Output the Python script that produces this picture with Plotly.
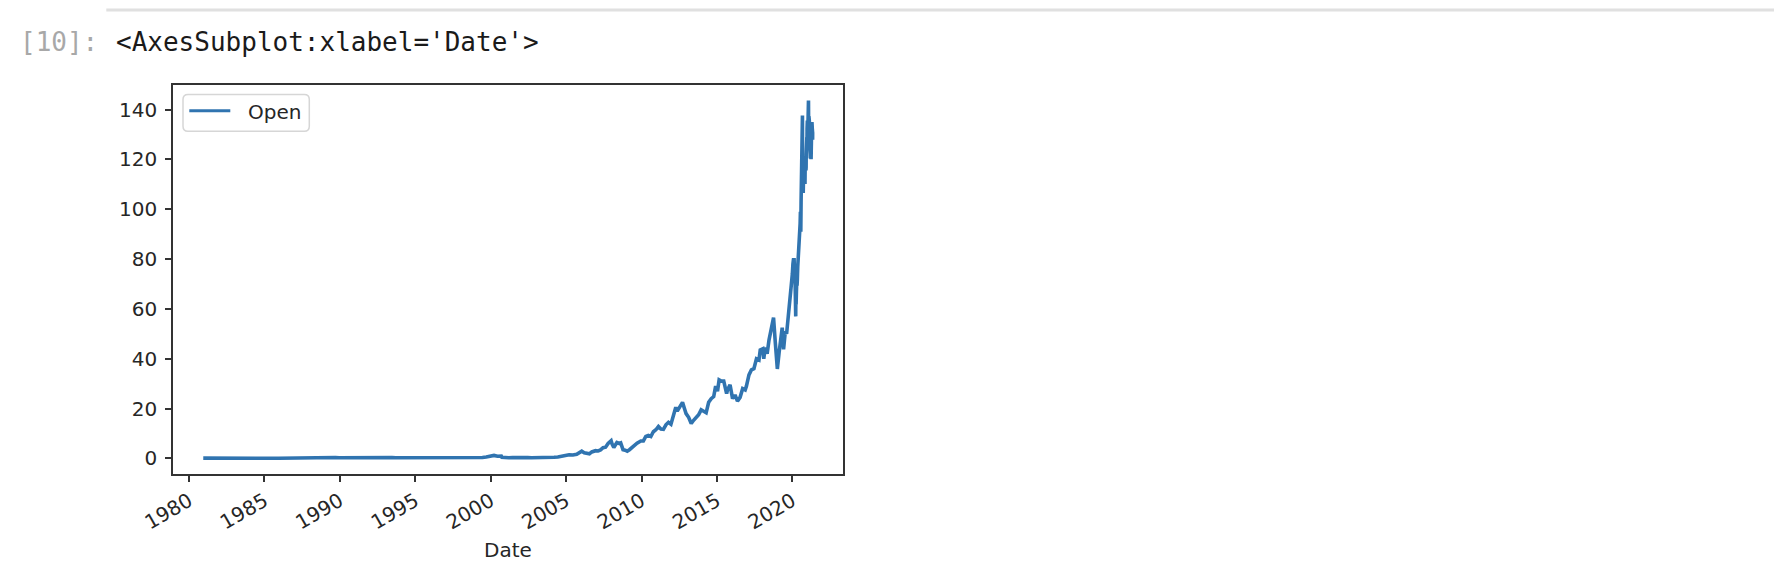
import plotly.graph_objects as go

# ---------------- data ----------------
dates = [
    "1980-12-12", "1981-03-15", "1981-06-15", "1981-09-15", "1981-12-15",
    "1982-03-15", "1982-06-15", "1982-09-15", "1982-12-15",
    "1983-03-15", "1983-06-15", "1983-09-15", "1983-12-15",
    "1984-03-15", "1984-06-15", "1984-09-15", "1984-12-15",
    "1985-03-15", "1985-06-15", "1985-09-15", "1985-12-15",
    "1986-03-15", "1986-06-15", "1986-09-15", "1986-12-15",
    "1987-03-15", "1987-06-15", "1987-09-15", "1987-10-25", "1987-12-15",
    "1988-03-15", "1988-06-15", "1988-09-15", "1988-12-15",
    "1989-03-15", "1989-06-15", "1989-09-15", "1989-12-15",
    "1990-03-15", "1990-06-15", "1990-09-15", "1990-12-15",
    "1991-03-15", "1991-06-15", "1991-09-15", "1991-12-15",
    "1992-03-15", "1992-06-15", "1992-09-15", "1992-12-15",
    "1993-03-15", "1993-06-15", "1993-09-15", "1993-12-15",
    "1994-03-15", "1994-06-15", "1994-09-15", "1994-12-15",
    "1995-03-15", "1995-06-15", "1995-09-15", "1995-12-15",
    "1996-03-15", "1996-06-15", "1996-09-15", "1996-12-15",
    "1997-03-15", "1997-06-15", "1997-09-15", "1997-12-15",
    "1998-03-15", "1998-06-15", "1998-09-15", "1998-12-15",
    "1999-03-15", "1999-06-15", "1999-09-15", "1999-12-15",
    "2000-03-15", "2000-03-22", "2000-06-15", "2000-09-15", "2000-09-29", "2000-12-15",
    "2001-03-15", "2001-06-15", "2001-09-15", "2001-12-15",
    "2002-03-15", "2002-06-15", "2002-09-15", "2002-12-15",
    "2003-03-15", "2003-06-15", "2003-09-15", "2003-12-15",
    "2004-03-15", "2004-06-15", "2004-09-15", "2004-12-15",
    "2005-03-15", "2005-06-15", "2005-09-15", "2005-12-15",
    "2006-01-15", "2006-03-15", "2006-06-15", "2006-07-20", "2006-09-15", "2006-12-15",
    "2007-02-15", "2007-04-15", "2007-06-15", "2007-08-15", "2007-10-15", "2007-12-27",
    "2008-01-20", "2008-03-01", "2008-05-15", "2008-07-15", "2008-08-15", "2008-10-10", "2008-12-01",
    "2009-01-20", "2009-03-15", "2009-05-15", "2009-07-15", "2009-09-15", "2009-12-15",
    "2010-02-15", "2010-04-15", "2010-06-15", "2010-08-15", "2010-10-15", "2010-12-15",
    "2011-02-15", "2011-04-15", "2011-06-15", "2011-08-15", "2011-10-15", "2011-12-15",
    "2012-02-15", "2012-04-10", "2012-05-15", "2012-07-15", "2012-09-20", "2012-11-15", "2012-12-15",
    "2013-02-15", "2013-04-19", "2013-06-15", "2013-08-15", "2013-10-15", "2013-12-15",
    "2014-02-15", "2014-04-15", "2014-06-15", "2014-08-15", "2014-10-15", "2014-12-01",
    "2015-01-15", "2015-02-23", "2015-04-15", "2015-06-15", "2015-08-24", "2015-09-15", "2015-11-15",
    "2016-01-15", "2016-03-15", "2016-05-12", "2016-07-15", "2016-09-15", "2016-11-15", "2016-12-15",
    "2017-02-15", "2017-04-15", "2017-06-15", "2017-08-15", "2017-10-15", "2017-11-15",
    "2018-01-15", "2018-02-08", "2018-03-15", "2018-05-01", "2018-06-15", "2018-08-15",
    "2018-10-03", "2018-11-15", "2018-12-24",
    "2019-01-03", "2019-02-15", "2019-04-15", "2019-05-01", "2019-06-03", "2019-07-15",
    "2019-08-15", "2019-09-15", "2019-10-15", "2019-11-15", "2019-12-15",
    "2020-01-02", "2020-01-15", "2020-01-24", "2020-01-31", "2020-02-03", "2020-02-12",
    "2020-02-24", "2020-02-28", "2020-03-03", "2020-03-09", "2020-03-12", "2020-03-13",
    "2020-03-16", "2020-03-18", "2020-03-23", "2020-03-26", "2020-04-01", "2020-04-09",
    "2020-04-17", "2020-04-24", "2020-05-01", "2020-05-11", "2020-05-20", "2020-05-29",
    "2020-06-05", "2020-06-12", "2020-06-19", "2020-06-26",
    "2020-07-01", "2020-07-08", "2020-07-15", "2020-07-22", "2020-07-24", "2020-07-31",
    "2020-08-03", "2020-08-10", "2020-08-17", "2020-08-21", "2020-08-24", "2020-08-28", "2020-08-31",
    "2020-09-02", "2020-09-04", "2020-09-08", "2020-09-10", "2020-09-14", "2020-09-16",
    "2020-09-18", "2020-09-21", "2020-09-23", "2020-09-25", "2020-09-29",
    "2020-10-01", "2020-10-05", "2020-10-07", "2020-10-09", "2020-10-12", "2020-10-14",
    "2020-10-16", "2020-10-19", "2020-10-21", "2020-10-23", "2020-10-26", "2020-10-28", "2020-10-30",
    "2020-11-02", "2020-11-04", "2020-11-06", "2020-11-09", "2020-11-11", "2020-11-13",
    "2020-11-16", "2020-11-18", "2020-11-20", "2020-11-23", "2020-11-25", "2020-11-30",
    "2020-12-02", "2020-12-04", "2020-12-07", "2020-12-09", "2020-12-11", "2020-12-14",
    "2020-12-16", "2020-12-18", "2020-12-21", "2020-12-23", "2020-12-28", "2020-12-30",
    "2021-01-04", "2021-01-06", "2021-01-08", "2021-01-11", "2021-01-13", "2021-01-15",
    "2021-01-19", "2021-01-21", "2021-01-25", "2021-01-26", "2021-01-27", "2021-01-29",
    "2021-02-01", "2021-02-03", "2021-02-05", "2021-02-09", "2021-02-11", "2021-02-16",
    "2021-02-18", "2021-02-22", "2021-02-24", "2021-02-26",
    "2021-03-01", "2021-03-03", "2021-03-05", "2021-03-08", "2021-03-10", "2021-03-12",
    "2021-03-16", "2021-03-18", "2021-03-22", "2021-03-24", "2021-03-26", "2021-03-30",
    "2021-04-01", "2021-04-06", "2021-04-08", "2021-04-12", "2021-04-14", "2021-04-16",
    "2021-04-20", "2021-04-22", "2021-04-26", "2021-04-28", "2021-04-30",
    "2021-05-04", "2021-05-06", "2021-05-07",
]

open_prices = [
    0.128, 0.105, 0.115, 0.08, 0.10,
    0.07, 0.065, 0.09, 0.13,
    0.18, 0.24, 0.11, 0.10,
    0.13, 0.12, 0.11, 0.11,
    0.09, 0.07, 0.07, 0.10,
    0.12, 0.15, 0.14, 0.15,
    0.25, 0.33, 0.48, 0.32, 0.38,
    0.38, 0.40, 0.37, 0.35,
    0.32, 0.36, 0.40, 0.30,
    0.32, 0.37, 0.26, 0.38,
    0.55, 0.45, 0.45, 0.45,
    0.55, 0.45, 0.40, 0.50,
    0.52, 0.40, 0.25, 0.26,
    0.30, 0.24, 0.30, 0.33,
    0.32, 0.38, 0.33, 0.28,
    0.22, 0.19, 0.18, 0.20,
    0.15, 0.13, 0.18, 0.12,
    0.22, 0.26, 0.30, 0.35,
    0.32, 0.40, 0.55, 0.85,
    1.05, 1.20, 0.85, 0.95, 0.50, 0.27,
    0.30, 0.38, 0.28, 0.38,
    0.43, 0.32, 0.27, 0.26,
    0.26, 0.32, 0.38, 0.37,
    0.46, 0.55, 0.70, 1.15,
    1.45, 1.35, 1.65, 2.55,
    2.90, 2.30, 2.05, 1.85, 2.60, 3.10,
    3.00, 3.40, 4.30, 4.50, 6.00, 7.10,
    5.80, 4.40, 6.40, 6.00, 6.20, 3.50, 3.30,
    2.90, 3.50, 4.50, 5.20, 6.10, 7.00,
    7.00, 8.80, 9.20, 8.80, 10.70, 11.50,
    12.80, 11.80, 11.70, 13.50, 14.50, 13.70,
    17.50, 20.50, 19.00, 20.50, 22.50, 19.50, 18.00,
    16.50, 14.00, 15.30, 16.30, 17.50, 19.50,
    19.00, 18.30, 22.50, 24.00, 24.80, 29.00,
    27.00, 31.50, 31.00, 31.00, 26.00, 27.50, 29.50,
    24.00, 25.50, 23.00, 24.50, 28.00, 27.50, 29.00,
    33.50, 35.50, 36.00, 40.00, 39.50, 43.50,
    44.00, 40.00, 44.50, 42.00, 47.50, 52.50,
    56.50, 46.50, 37.00,
    35.90, 42.50, 49.50, 52.50, 43.80, 51.00,
    50.00, 55.00, 59.00, 66.00, 70.00,
    74.10, 77.96, 80.06, 80.20, 76.10, 80.37,
    74.30, 64.30, 75.90, 65.90, 63.99, 66.20,
    60.50, 59.90, 57.00, 64.40, 61.60, 67.00,
    71.20, 69.30, 71.60, 77.00, 79.20, 79.80,
    82.60, 86.20, 88.70, 91.10,
    91.30, 94.20, 98.99, 96.70, 90.99, 102.90,
    108.20, 112.60, 116.10, 119.30, 128.70, 126.00, 127.60,
    137.60, 120.10, 113.90, 120.40, 114.70, 115.20,
    110.40, 106.50, 111.60, 108.40, 114.60,
    117.60, 113.90, 114.60, 115.30, 120.10, 121.00,
    121.30, 119.96, 116.70, 116.40, 114.00, 115.10, 111.10,
    110.10, 114.10, 118.30, 120.50, 117.20, 119.40,
    118.90, 118.60, 118.60, 117.20, 115.60, 116.97,
    122.00, 122.60, 122.30, 124.50, 122.40, 122.60,
    127.40, 128.96, 125.00, 132.20, 133.99, 135.60,
    133.50, 127.70, 132.40, 129.20, 128.80, 128.80,
    127.80, 133.80, 143.10, 143.60, 143.40, 135.80,
    133.80, 135.80, 137.35, 136.60, 135.90, 135.50,
    129.20, 128.00, 124.90, 122.60,
    123.75, 124.80, 120.98, 120.90, 121.70, 120.40,
    125.70, 122.90, 120.30, 122.80, 120.35, 120.10,
    123.70, 126.50, 128.95, 132.50, 134.90, 134.30,
    135.00, 133.00, 134.80, 134.30, 131.80,
    131.20, 127.90, 130.85,
]

series_name = "Open"
x_label = "Date"
tick_years = ["1980", "1985", "1990", "1995", "2000", "2005", "2010", "2015", "2020"]
y_ticks = [0, 20, 40, 60, 80, 100, 120, 140]
cell_prompt = "[10]:"
cell_output = "<AxesSubplot:xlabel='Date'>"

# ---------------- styling / layout ----------------
PAGE_W, PAGE_H = 1782, 576
BODY = 8                                    # default page body margin
W, H = PAGE_W - 2 * BODY, PAGE_H - 2 * BODY
PL, PR, PT, PB = 172.7, 842.7, 84.7, 474.3   # plot area in page pixels
LINE = "#3074b0"
SPINE = "#333333"
TXT = "#262626"


def px(x):
    return (x - PL) / (PR - PL)


def py(y):
    return (PB - y) / (PB - PT)


fig = go.Figure()
fig.add_trace(go.Scatter(
    x=dates, y=open_prices, mode="lines", name=series_name,
    line=dict(color=LINE, width=3.6), showlegend=False,
))

axis_common = dict(
    showgrid=False, zeroline=False, showline=True, mirror=True,
    linecolor=SPINE, linewidth=1.6, ticks="outside", ticklen=6,
    tickwidth=1.6, tickcolor=SPINE,
    tickfont=dict(family="DejaVu Sans", size=20, color=TXT),
)

fig.update_layout(
    width=W, height=H, autosize=False,
    margin=dict(l=PL - BODY, r=PAGE_W - BODY - PR, t=PT - BODY,
                b=PAGE_H - BODY - PB, pad=0),
    paper_bgcolor="white", plot_bgcolor="white",
    xaxis=dict(
        type="date", range=["1978-12-10", "2023-05-12"],
        tickvals=[f"{y}-01-01" for y in tick_years], ticktext=tick_years,
        tickangle=-30, **axis_common,
    ),
    yaxis=dict(
        range=[-6.25, 149.85], tickvals=y_ticks,
        ticktext=[str(v) for v in y_ticks], ticklabelstandoff=4,
        **axis_common,
    ),
    showlegend=False,
)

# notebook cell decoration
fig.add_shape(type="line", xref="paper", yref="paper",
              x0=px(106), x1=px(PAGE_W - BODY), y0=py(BODY + 1.5), y1=py(BODY + 1.5),
              line=dict(color="#e0e0e0", width=3))
fig.add_annotation(text=cell_prompt, xref="paper", yref="paper",
                   x=px(18), y=py(42), xanchor="left", yanchor="middle",
                   showarrow=False,
                   font=dict(family="DejaVu Sans Mono", size=26, color="#a8a8a8"))
fig.add_annotation(text=cell_output, xref="paper", yref="paper",
                   x=px(114), y=py(42), xanchor="left", yanchor="middle",
                   showarrow=False,
                   font=dict(family="DejaVu Sans Mono", size=26, color="#1a1a1a"))

# x axis label
fig.add_annotation(text=x_label, xref="paper", yref="paper",
                   x=0.5, y=py(550), xanchor="center", yanchor="middle",
                   showarrow=False,
                   font=dict(family="DejaVu Sans", size=20, color=TXT))

# legend (matplotlib style, rounded frame)
x0, x1, y0, y1 = px(182.7), px(309), py(131), py(94.3)
rx, ry = 5 / (PR - PL), 5 / (PB - PT)
path = (f"M {x0+rx},{y1} L {x1-rx},{y1} Q {x1},{y1} {x1},{y1-ry} "
        f"L {x1},{y0+ry} Q {x1},{y0} {x1-rx},{y0} L {x0+rx},{y0} "
        f"Q {x0},{y0} {x0},{y0+ry} L {x0},{y1-ry} Q {x0},{y1} {x0+rx},{y1} Z")
fig.add_shape(type="path", path=path, xref="paper", yref="paper",
              line=dict(color="#d6d6d6", width=1.5), fillcolor="rgba(255,255,255,0.8)")
fig.add_shape(type="line", xref="paper", yref="paper",
              x0=px(189), x1=px(230), y0=py(110.5), y1=py(110.5),
              line=dict(color=LINE, width=3))
fig.add_annotation(text=series_name, xref="paper", yref="paper",
                   x=px(246), y=py(112), xanchor="left", yanchor="middle",
                   showarrow=False,
                   font=dict(family="DejaVu Sans", size=20, color=TXT))

fig.write_html("out.html")
